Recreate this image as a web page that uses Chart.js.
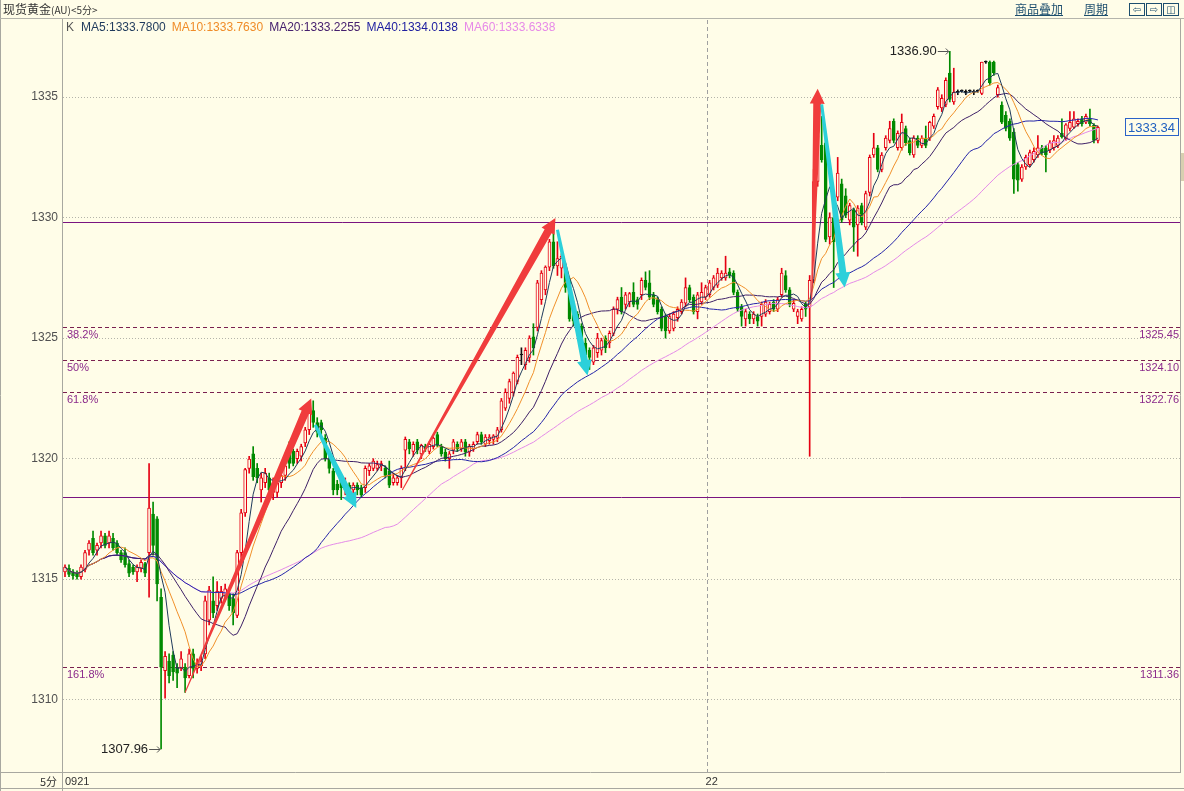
<!DOCTYPE html>
<html>
<head>
<meta charset="utf-8">
<title>现货黄金(AU)&lt;5分&gt;</title>
<script src="https://cdn.jsdelivr.net/npm/chart.js@4.4.1/dist/chart.umd.min.js"></script>
<style>
  html, body { margin: 0; padding: 0; background: #fffde8; }
  #box { position: relative; width: 1184px; height: 791px; overflow: hidden; background: #fffde8; }
  #chart { position: absolute; left: 0; top: 0; }
  .hdr { position: absolute; left: 0; top: 0; width: 1184px; height: 18px; border-bottom: 1px solid #b4b4ac; font: 12px/16px "Noto Sans CJK SC", sans-serif; color: #333; z-index: 2; }
  .title { position: absolute; left: 3px; top: 1px; }
  .title small { font-size: 10px; }
  .lnk { position: absolute; top: 1px; color: #1d4e6e; text-decoration: underline; }
  .ico { position: absolute; top: 3px; width: 14px; height: 11px; border: 1px solid #1d4e6e; font: 10px/11px "DejaVu Sans", sans-serif; text-align: center; color: #1d4e6e; }
  .unit { position: absolute; left: 40px; top: 774px; font: 11px/14px "Noto Sans CJK SC", sans-serif; color: #333; z-index: 2; }
</style>
</head>
<body>
<div id="box">
  <div class="hdr">
    <span class="title">现货黄金<small>(AU)&lt;5分&gt;</small></span>
    <span class="lnk" style="left:1015px">商品叠加</span>
    <span class="lnk" style="left:1084px">周期</span>
    <span class="ico" style="left:1129px">&#8678;</span>
    <span class="ico" style="left:1146px">&#8680;</span>
    <span class="ico" style="left:1163px">&#9707;</span>
  </div>
  <div class="unit">5分</div>
  <canvas id="chart" width="1184" height="791"></canvas>
</div>

<script>
// 5分钟K线 (开 高 低 收), 从 09-21 到 22 日
const opens = [1315.3,1315.45,1315.3,1315.2,1315.1,1315.4,1316.2,1316.7,1316.2,1316.5,
  1316.8,1316.5,1316.7,1316.5,1316.1,1316.1,1315.65,1315.5,1315.3,1315.45,
  1315.65,1316.1,1317.7,1317.5,1314.25,1311.2,1311.6,1311.85,1311.3,1311.3,
  1311.35,1311.0,1311.9,1311.3,1311.4,1311.9,1313.3,1314.1,1313.9,1314.2,
  1314.3,1314.4,1314.2,1313.5,1316.1,1317.75,1319.6,1320.2,1319.6,1318.7,
  1319.0,1319.2,1318.6,1318.6,1319.0,1319.3,1320.2,1320.3,1320.0,1320.1,
  1320.65,1321.2,1322.0,1321.5,1321.5,1320.85,1320.0,1319.5,1318.95,1319.1,
  1318.7,1318.9,1318.7,1318.9,1318.8,1318.8,1319.5,1319.6,1319.6,1319.7,
  1319.6,1319.5,1319.0,1319.0,1319.2,1320.35,1320.7,1320.3,1320.7,1320.2,
  1320.5,1320.3,1320.5,1321.0,1320.5,1320.27,1320.0,1320.35,1320.6,1320.4,
  1320.7,1320.27,1320.4,1320.7,1321.0,1320.6,1320.75,1320.8,1320.85,1321.2,
  1322.1,1322.5,1322.76,1323.2,1324.3,1323.9,1324.2,1325.05,1325.45,1326.6,
  1327.0,1327.95,1329.0,1328.0,1327.9,1327.8,1327.4,1326.3,1326.0,1325.5,
  1324.8,1324.5,1324.0,1324.4,1324.5,1325.0,1324.8,1325.2,1326.2,1326.7,
  1326.4,1326.5,1326.9,1326.6,1326.8,1327.4,1327.3,1326.8,1326.6,1326.2,
  1325.9,1325.3,1325.4,1325.85,1326.1,1326.45,1327.1,1326.7,1326.1,1326.5,
  1326.7,1326.8,1327.1,1327.2,1327.5,1327.5,1327.75,1327.7,1326.9,1326.3,
  1325.8,1326.0,1325.8,1325.9,1325.9,1326.0,1326.1,1326.5,1326.2,1326.8,
  1327.6,1327.0,1326.2,1325.9,1325.8,1326.4,1326.3,1327.4,1331.5,1333.0,
  1333.1,1329.2,1330.0,1330.85,1331.4,1330.9,1329.9,1330.3,1329.7,1330.5,
  1329.6,1331.05,1332.6,1332.9,1332.0,1332.9,1333.2,1334.0,1332.9,1332.9,
  1333.7,1333.2,1332.6,1333.3,1333.0,1333.3,1333.3,1333.8,1334.6,1334.55,
  1334.7,1336.0,1334.8,1335.2,1335.25,1335.2,1335.25,1335.2,1335.25,1335.15,
  1336.45,1336.45,1336.45,1335.1,1334.67,1334.25,1334.0,1333.55,1332.2,1331.6,
  1332.1,1332.2,1332.4,1332.6,1332.9,1332.9,1332.8,1332.9,1333.0,1333.5,
  1333.3,1333.7,1333.75,1333.9,1334.1,1333.96,1334.1,1333.84,1333.2]

const highs = [1315.6,1315.6,1315.4,1315.35,1315.6,1316.2,1316.6,1317.0,1316.5,1317.0,
  1316.9,1317.0,1316.9,1316.6,1316.2,1316.3,1315.8,1315.6,1315.6,1315.8,
  1315.7,1319.8,1318.2,1317.6,1314.6,1312.0,1311.9,1312.0,1311.5,1312.0,
  1311.5,1312.1,1312.1,1311.7,1311.8,1314.3,1314.7,1315.1,1314.9,1314.7,
  1314.8,1314.6,1314.4,1316.2,1317.9,1319.6,1320.1,1320.5,1319.8,1319.4,
  1319.6,1319.4,1319.2,1319.1,1319.4,1319.8,1320.7,1320.4,1320.4,1320.6,
  1321.3,1322.0,1322.4,1321.7,1321.6,1321.0,1320.2,1319.6,1319.1,1319.2,
  1319.2,1319.0,1319.0,1319.0,1318.9,1319.7,1319.8,1320.0,1319.9,1319.9,
  1319.7,1319.9,1319.4,1319.3,1319.7,1320.9,1320.8,1320.7,1320.8,1320.6,
  1320.6,1320.7,1320.9,1321.1,1320.6,1320.4,1320.3,1320.8,1320.7,1320.8,
  1320.8,1320.6,1320.7,1321.1,1321.1,1321.0,1321.0,1321.0,1321.3,1322.5,
  1322.9,1323.3,1323.6,1324.3,1324.6,1324.6,1325.1,1325.6,1327.4,1327.8,
  1328.0,1329.1,1329.8,1329.0,1328.5,1327.9,1327.5,1326.5,1326.1,1325.6,
  1325.0,1324.6,1324.7,1325.2,1325.0,1325.1,1325.3,1326.3,1326.7,1327.1,
  1326.9,1326.9,1327.3,1326.7,1327.5,1327.75,1327.8,1326.9,1326.7,1326.3,
  1326.0,1326.0,1326.1,1326.3,1326.6,1327.5,1327.2,1326.8,1326.9,1327.3,
  1327.2,1327.4,1327.6,1327.9,1327.8,1328.4,1327.9,1327.8,1327.0,1326.4,
  1326.2,1326.1,1326.1,1326.0,1326.5,1326.6,1326.5,1326.6,1326.7,1327.9,
  1327.8,1327.1,1326.6,1326.2,1326.3,1326.5,1327.6,1332.0,1334.3,1334.2,
  1333.3,1330.2,1330.3,1332.5,1331.6,1331.2,1330.6,1330.4,1330.5,1330.6,
  1331.1,1332.6,1333.5,1333.0,1332.7,1333.4,1334.0,1334.1,1333.6,1334.3,
  1333.8,1333.3,1333.4,1333.4,1333.4,1333.8,1334.0,1334.3,1335.4,1335.1,
  1335.8,1336.9,1336.2,1335.3,1335.3,1335.3,1335.3,1335.3,1335.3,1336.45,
  1336.5,1336.5,1336.5,1335.5,1334.8,1334.4,1334.1,1333.7,1332.3,1332.2,
  1332.6,1332.8,1332.9,1333.4,1333.0,1333.0,1333.2,1333.4,1333.4,1334.1,
  1333.9,1334.4,1334.4,1334.1,1334.2,1334.3,1334.5,1333.9,1333.8]

const lows = [1315.1,1315.1,1315.0,1315.0,1315.0,1315.3,1316.0,1316.0,1316.0,1316.3,
  1316.3,1316.3,1316.2,1316.0,1315.7,1315.5,1315.1,1315.2,1314.9,1315.3,
  1315.1,1314.25,1316.0,1314.1,1307.96,1310.06,1310.7,1310.8,1310.5,1311.2,
  1310.3,1310.9,1310.9,1311.1,1311.2,1311.7,1313.1,1313.4,1313.7,1314.0,
  1314.1,1313.7,1313.1,1313.4,1315.9,1317.6,1319.4,1319.1,1319.0,1318.2,
  1318.8,1318.5,1318.3,1318.4,1318.8,1319.1,1319.6,1319.7,1319.8,1319.9,
  1320.5,1321.0,1321.3,1320.9,1321.0,1319.9,1319.4,1318.5,1318.5,1318.3,
  1318.5,1318.4,1318.4,1318.5,1318.4,1318.6,1319.3,1319.5,1319.5,1319.5,
  1319.2,1318.8,1318.9,1318.9,1318.8,1319.5,1320.2,1320.1,1320.2,1320.0,
  1320.3,1320.2,1320.4,1320.5,1320.1,1319.9,1319.6,1320.2,1320.3,1320.3,
  1320.1,1320.1,1320.3,1320.6,1320.6,1320.5,1320.6,1320.6,1320.7,1321.1,
  1322.0,1322.3,1322.6,1323.1,1323.9,1323.7,1324.0,1324.3,1325.3,1326.4,
  1326.8,1327.8,1327.9,1327.6,1327.5,1326.9,1325.7,1325.5,1325.3,1324.5,
  1323.8,1323.7,1323.9,1324.2,1324.3,1324.4,1324.6,1325.1,1326.0,1326.0,
  1326.2,1326.3,1326.3,1326.2,1326.6,1327.0,1326.6,1326.3,1326.0,1325.3,
  1325.0,1325.2,1325.3,1325.7,1326.0,1326.3,1326.5,1326.0,1325.8,1326.4,
  1326.6,1326.7,1327.0,1327.1,1327.4,1327.4,1327.5,1326.8,1326.1,1325.5,
  1325.5,1325.6,1325.6,1325.5,1325.5,1325.9,1326.0,1326.1,1326.1,1326.7,
  1326.9,1326.3,1326.1,1325.6,1325.7,1325.9,1320.1,1327.3,1331.3,1332.3,
  1329.0,1328.9,1327.1,1330.7,1329.8,1330.0,1329.7,1328.6,1328.4,1329.7,
  1329.5,1330.9,1332.5,1331.9,1331.9,1332.8,1333.1,1333.1,1332.8,1332.8,
  1333.0,1332.6,1332.5,1332.9,1332.9,1332.9,1333.2,1333.7,1334.5,1334.4,
  1334.6,1334.8,1334.7,1335.1,1335.2,1335.1,1335.2,1335.1,1335.2,1335.1,
  1336.4,1335.5,1335.9,1335.0,1333.9,1333.6,1333.2,1331.0,1331.1,1331.5,
  1332.0,1332.1,1332.3,1332.5,1332.6,1331.9,1332.7,1332.8,1332.9,1333.3,
  1333.2,1333.6,1333.7,1333.8,1333.8,1333.9,1333.8,1333.1,1333.1]

const closes = [1315.5,1315.2,1315.15,1315.1,1315.5,1316.1,1316.5,1316.1,1316.4,1316.8,
  1316.4,1316.8,1316.3,1316.1,1315.8,1315.6,1315.25,1315.3,1315.5,1315.7,
  1315.25,1317.95,1316.4,1314.8,1311.35,1311.8,1311.0,1311.15,1311.1,1311.7,
  1310.9,1311.9,1311.3,1311.5,1311.6,1314.1,1314.55,1313.6,1314.5,1314.5,
  1314.6,1313.9,1313.6,1316.1,1317.75,1319.55,1319.98,1319.25,1319.2,1319.2,
  1319.4,1318.7,1319.0,1319.0,1319.3,1319.7,1319.8,1319.8,1320.3,1320.5,
  1321.2,1321.9,1321.5,1321.1,1321.2,1320.0,1319.6,1318.7,1318.7,1318.8,
  1319.0,1318.6,1318.9,1318.7,1318.5,1319.6,1319.7,1319.9,1319.75,1319.8,
  1319.3,1318.9,1319.2,1319.2,1319.6,1320.8,1320.4,1320.6,1320.35,1320.55,
  1320.4,1320.6,1320.85,1320.55,1320.2,1320.0,1320.2,1320.7,1320.4,1320.7,
  1320.27,1320.5,1320.6,1321.0,1320.7,1320.9,1320.9,1320.95,1321.2,1322.4,
  1322.75,1323.2,1323.55,1324.2,1324.3,1324.5,1325.0,1324.6,1327.3,1327.7,
  1327.95,1329.0,1328.0,1328.3,1328.4,1327.1,1325.8,1325.7,1325.45,1324.7,
  1324.3,1324.2,1324.6,1325.0,1324.9,1324.6,1325.2,1326.2,1326.6,1326.1,
  1326.8,1326.85,1326.4,1326.4,1327.4,1327.1,1326.7,1326.4,1326.1,1325.4,
  1325.3,1325.9,1326.0,1326.2,1326.5,1327.1,1326.6,1326.1,1326.8,1326.9,
  1327.1,1327.3,1327.5,1327.7,1327.7,1327.7,1327.6,1326.9,1326.2,1325.9,
  1326.1,1325.8,1326.0,1325.7,1326.4,1326.5,1326.4,1326.2,1326.6,1327.7,
  1327.0,1326.4,1326.45,1326.1,1326.2,1326.2,1327.4,1331.5,1333.4,1332.4,
  1329.1,1330.0,1329.0,1331.85,1329.9,1330.1,1330.5,1329.6,1330.4,1329.8,
  1331.0,1332.5,1332.9,1332.0,1332.6,1333.3,1333.7,1333.2,1333.5,1333.95,
  1333.1,1332.7,1333.3,1333.0,1333.3,1333.0,1333.95,1334.2,1335.3,1334.95,
  1335.7,1334.9,1335.2,1335.2,1335.25,1335.2,1335.25,1335.2,1335.25,1336.45,
  1336.45,1335.6,1336.0,1335.4,1333.96,1333.7,1333.3,1331.6,1331.55,1332.1,
  1332.5,1332.7,1332.75,1332.9,1332.7,1332.6,1333.1,1333.2,1333.3,1333.35,
  1333.85,1333.95,1334.1,1334.0,1333.9,1334.2,1333.9,1333.2,1333.75]

// 时间轴: 只标两处
const tickSlots = [0, 160]
const tickTexts = ['0921', '22']
const dayBreak = 161
const blankSlots = 20

// 均线
const maPeriods = [5, 10, 20, 40, 60]
const maColors = ['#1f3a5c', '#f0902a', '#3d1f66', '#2424a8', '#e48ae8']
const maLegendColors = ['#1f3a5c', '#f08c28', '#46206e', '#2020a0', '#e78ae8']
const maLegendTexts = ['MA5:1333.7800', 'MA10:1333.7630', 'MA20:1333.2255', 'MA40:1334.0138', 'MA60:1333.6338']

// 画线: 箱体, 黄金分割
const boxLevels = [1329.80, 1318.40]
const fibLevels = [1325.45, 1324.10, 1322.76, 1311.36]
const fibNames = ['38.2%', '50%', '61.8%', '161.8%']

// 手绘箭头 [起点K线, 起点价, 终点K线, 终点价]
const redArrows = [[30, 1310.3, 61.5, 1322.5], [84.25, 1318.7, 122.5, 1329.98], [186.5, 1326.6, 188, 1335.35]]
const cyanArrows = [[62.5, 1321.4, 72.75, 1317.95], [123, 1329.5, 130.5, 1323.45], [189, 1334.7, 194.75, 1327.1]]

const lastPrice = '1333.34'
const yMin = 1307.0
const yMax = 1338.2

const UP = '#e60012'
const DOWN = '#008a00'
const BG = '#fffde8'

const slots = []
for (let i = 0; i < closes.length + blankSlots; i++) slots.push(i)

const lineColor = closes.map((c, i) => c > opens[i] ? UP : (c < opens[i] ? DOWN : '#111'))
const bodyFill = closes.map((c, i) => c > opens[i] ? BG : (c < opens[i] ? DOWN : '#111'))

function movingAvg(n) {
    return closes.map((c, i) => {
        const part = closes.slice(Math.max(0, i - n + 1), i + 1)
        return part.reduce((a, b) => a + b, 0) / part.length
    })
}

function drawArrow(ctx, x1, y1, x2, y2, color, tail, body) {
    const ang = Math.atan2(y2 - y1, x2 - x1)
    const len = Math.hypot(x2 - x1, y2 - y1)
    const head = 15, hw = 7.5
    ctx.save()
    ctx.translate(x1, y1)
    ctx.rotate(ang)
    ctx.fillStyle = color
    ctx.beginPath()
    ctx.moveTo(0, -tail / 2)
    ctx.lineTo(len - head, -body / 2)
    ctx.lineTo(len - head, -hw)
    ctx.lineTo(len, 0)
    ctx.lineTo(len - head, hw)
    ctx.lineTo(len - head, body / 2)
    ctx.lineTo(0, tail / 2)
    ctx.closePath()
    ctx.fill()
    ctx.restore()
}

function markExtreme(ctx, px, py, text) {
    ctx.font = '13px "Liberation Sans"'
    ctx.fillStyle = '#222'
    ctx.textAlign = 'right'
    ctx.textBaseline = 'middle'
    ctx.fillText(text, px - 13, py)
    ctx.strokeStyle = '#555'
    ctx.lineWidth = 1
    ctx.beginPath()
    ctx.moveTo(px - 12, py + 0.5)
    ctx.lineTo(px - 1, py + 0.5)
    ctx.moveTo(px - 4, py - 2.5)
    ctx.lineTo(px - 1, py + 0.5)
    ctx.lineTo(px - 4, py + 3.5)
    ctx.stroke()
}

const overlay = {
    id: 'overlay',
    beforeDatasetsDraw(chart) {
        const { ctx, chartArea: a, scales: { y } } = chart
        ctx.save()
        ctx.lineWidth = 1
        ctx.strokeStyle = '#7a1480'
        boxLevels.forEach(v => {
            const py = Math.round(y.getPixelForValue(v)) + 0.5
            ctx.beginPath(); ctx.moveTo(a.left, py); ctx.lineTo(a.right, py); ctx.stroke()
        })
        ctx.setLineDash([4, 3])
        ctx.strokeStyle = '#7a2050'
        fibLevels.forEach(v => {
            const py = Math.round(y.getPixelForValue(v)) + 0.5
            ctx.beginPath(); ctx.moveTo(a.left, py); ctx.lineTo(a.right, py); ctx.stroke()
        })
        ctx.restore()
    },
    afterDatasetsDraw(chart) {
        const { ctx, chartArea: a, scales: { x, y } } = chart
        ctx.save()

        // 分割位标签
        ctx.font = '11px "Liberation Sans"'
        ctx.fillStyle = '#8b2a8b'
        ctx.textBaseline = 'top'
        fibLevels.forEach((v, k) => {
            const py = Math.round(y.getPixelForValue(v))
            ctx.textAlign = 'left'
            ctx.fillText(fibNames[k], a.left + 4, py + 2)
            ctx.textAlign = 'right'
            ctx.fillText(v.toFixed(2), a.right - 1, py + 2)
        })

        // 箭头
        redArrows.forEach(r => drawArrow(ctx, x.getPixelForValue(r[0]), y.getPixelForValue(r[1]),
            x.getPixelForValue(r[2]), y.getPixelForValue(r[3]), '#f03c3c', 1, 8))
        cyanArrows.forEach(r => drawArrow(ctx, x.getPixelForValue(r[0]), y.getPixelForValue(r[1]),
            x.getPixelForValue(r[2]), y.getPixelForValue(r[3]), '#2cd0da', 3, 7))

        // 最高 最低
        const hi = Math.max(...highs), lo = Math.min(...lows)
        const hiIdx = highs.indexOf(hi), loIdx = lows.indexOf(lo)
        markExtreme(ctx, x.getPixelForValue(hiIdx), Math.round(y.getPixelForValue(hi)), hi.toFixed(2))
        markExtreme(ctx, x.getPixelForValue(loIdx), Math.round(y.getPixelForValue(lo)), lo.toFixed(2))

        // 最新价
        const last = closes.length - 1
        const ly = Math.round(y.getPixelForValue(closes[last]))
        ctx.font = '13px "Liberation Sans"'
        const tw = ctx.measureText(lastPrice).width
        ctx.fillStyle = BG
        ctx.fillRect(a.right - tw - 8, ly - 9, tw + 6, 18)
        ctx.strokeStyle = '#2a62c8'
        ctx.lineWidth = 1
        ctx.strokeRect(a.right - tw - 8 + 0.5, ly - 9 + 0.5, tw + 6, 17)
        ctx.fillStyle = '#1f5fbf'
        ctx.textAlign = 'left'
        ctx.textBaseline = 'middle'
        ctx.fillText(lastPrice, a.right - tw - 5, ly + 1)

        // 均线图例
        ctx.font = '12px "Liberation Sans"'
        ctx.textBaseline = 'middle'
        ctx.fillStyle = '#555'
        ctx.fillText('K', a.left + 3, 28)
        let lx = a.left + 18
        maLegendTexts.forEach((t, k) => {
            ctx.fillStyle = maLegendColors[k]
            ctx.fillText(t, lx, 28)
            lx += ctx.measureText(t).width + 6
        })
        ctx.restore()
    },
    afterDraw(chart) {
        const { ctx, chartArea: a, width, height } = chart
        ctx.save()
        ctx.strokeStyle = '#a8a8a0'
        ctx.lineWidth = 1
        ctx.beginPath()
        ctx.moveTo(a.left - 0.5, 19); ctx.lineTo(a.left - 0.5, height)
        ctx.moveTo(0, a.bottom + 0.5); ctx.lineTo(a.right + 1, a.bottom + 0.5)
        ctx.moveTo(a.right + 0.5, 19); ctx.lineTo(a.right + 0.5, a.bottom)
        ctx.moveTo(0, height - 2.5); ctx.lineTo(width, height - 2.5)
        ctx.moveTo(0.5, 0); ctx.lineTo(0.5, height)
        ctx.stroke()
        ctx.fillStyle = '#d8cfb0'
        ctx.fillRect(a.right + 1, 153, width - a.right - 1, 28)
        ctx.restore()
    }
}

const maSets = maPeriods.map((n, k) => ({
    type: 'line',
    label: 'MA' + n,
    data: movingAvg(n),
    borderColor: maColors[k],
    borderWidth: 1,
    pointRadius: 0,
    tension: 0,
    order: 1
}))

new Chart(document.getElementById('chart'), {
    type: 'bar',
    data: {
        labels: slots,
        datasets: [{
            label: 'wick',
            data: lows.map((l, i) => [l, highs[i]]),
            backgroundColor: lineColor,
            barThickness: 1,
            grouped: false,
            order: 5
        }, {
            label: 'body',
            data: opens.map((o, i) => [o, closes[i]]),
            backgroundColor: bodyFill,
            borderColor: lineColor,
            borderWidth: 1,
            borderSkipped: false,
            barThickness: 3,
            minBarLength: 1,
            grouped: false,
            order: 4
        }, ...maSets]
    },
    options: {
        responsive: false,
        animation: false,
        devicePixelRatio: 1,
        layout: { padding: { top: 20, right: 4, left: 0, bottom: 0 } },
        plugins: {
            legend: { display: false },
            tooltip: { enabled: false }
        },
        scales: {
            x: {
                type: 'category',
                offset: true,
                afterFit(s) { s.height = 19 },
                ticks: {
                    autoSkip: false,
                    maxRotation: 0,
                    minRotation: 0,
                    align: 'start',
                    padding: 3,
                    color: '#333',
                    font: { family: 'Liberation Sans', size: 11 },
                    callback: (v, i) => {
                        const k = tickSlots.indexOf(i)
                        return k < 0 ? '' : tickTexts[k]
                    }
                },
                grid: {
                    offset: true,
                    drawTicks: false,
                    color: c => c.index === dayBreak ? '#a0a0a0' : 'rgba(0,0,0,0)'
                },
                border: { display: false, dash: [4, 3] }
            },
            y: {
                min: yMin,
                max: yMax,
                position: 'left',
                afterFit(s) { s.width = 63 },
                afterBuildTicks(s) {
                    s.ticks = s.ticks.filter(t => Math.abs(t.value % 5) < 1e-6)
                },
                ticks: {
                    stepSize: 5,
                    padding: 5,
                    color: '#505050',
                    font: { family: 'Liberation Sans', size: 12 },
                    callback: v => String(v)
                },
                grid: { color: '#b4b4aa', drawTicks: false },
                border: { display: false, dash: [1, 2] }
            }
        }
    },
    plugins: [overlay]
})
</script>
</body>
</html>
